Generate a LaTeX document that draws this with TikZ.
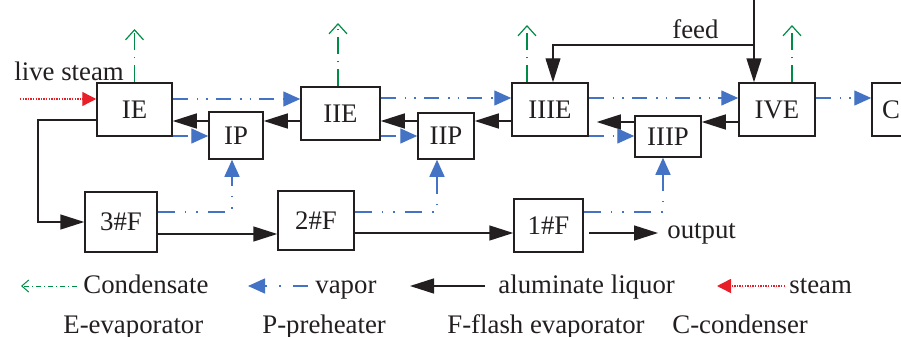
\documentclass[tikz,border=0pt]{standalone}
\usepackage{fontspec}
\setmainfont{Liberation Serif}
\usetikzlibrary{arrows.meta}
\definecolor{vblue}{RGB}{68,114,196}
\definecolor{cgreen}{RGB}{0,140,70}
\definecolor{sred}{RGB}{232,30,40}
\definecolor{lblack}{RGB}{35,31,32}
\begin{document}
\begin{tikzpicture}[x=0.5pt,y=-0.5pt,
 box/.style={draw=lblack, line width=0.75pt, inner sep=0pt, font=\fontsize{13.4}{15}\selectfont, text=lblack},
 txt/.style={inner sep=0pt, anchor=base west, font=\fontsize{13.4}{15}\selectfont, text=lblack},
 liq/.style={draw=lblack, line width=0.75pt, -{Triangle[length=12pt,width=7.5pt]}},
 vap/.style={draw=vblue, line width=0.7pt, dash pattern=on 7.5pt off 4.5pt on 0.8pt off 4pt on 0.8pt off 4pt, -{Triangle[length=8.5pt,width=7.5pt]}},
 vapb/.style={draw=vblue, line width=0.7pt, dash pattern=on 8.5pt off 5pt on 0.8pt off 5pt on 0.8pt off 5pt, -{Triangle[length=8.5pt,width=7.5pt]}},
 cond/.style={draw=cgreen, line width=0.6pt, dash pattern=on 8.5pt off 3.5pt on 0.6pt off 3.5pt, -{Straight Barb[length=5pt,width=9pt]}},
 stm/.style={draw=sred, line width=0.7pt, dash pattern=on 0.7pt off 0.6pt, -{Triangle[length=7pt,width=7pt]}}
 ]
\useasboundingbox (0,0) rectangle (901,337);
\clip (0,0) rectangle (901,337);
% boxes
\node[box, minimum width=37.5pt, minimum height=26.5pt] (IE) at (134.5,109.5) {IE};
\node[box, minimum width=27pt, minimum height=23.5pt] (IP) at (236,135.5) {IP};
\node[box, minimum width=39.5pt, minimum height=26.5pt] (IIE) at (340.5,113.5) {IIE};
\node[box, minimum width=28pt, minimum height=23pt] (IIP) at (446,136) {IIP};
\node[box, minimum width=38pt, minimum height=26.5pt] (IIIE) at (550,109.5) {IIIE};
\node[box, minimum width=33pt, minimum height=20.5pt] (IIIP) at (668,136.5) {IIIP};
\node[box, minimum width=38pt, minimum height=26.5pt] (IVE) at (777,109.5) {IVE};
\node[box, minimum width=19pt, minimum height=26.5pt] (C) at (891,109.5) {C};
\node[box, minimum width=36pt, minimum height=30pt] (F3) at (121,222) {3\#F};
\node[box, minimum width=38pt, minimum height=29.5pt] (F2) at (316,220.5) {2\#F};
\node[box, minimum width=34.5pt, minimum height=26.5pt] (F1) at (548.5,225.5) {1\#F};
% liquor upper
\draw[liq] (IP.west |- 0,121) -- (IE.east |- 0,121);
\draw[liq] (IIE.west |- 0,121) -- (IP.east |- 0,121);
\draw[liq] (IIP.west |- 0,121) -- (IIE.east |- 0,121);
\draw[liq] (IIIE.west |- 0,121) -- (IIP.east |- 0,121);
\draw[liq, shorten >=4pt] (IIIP.west |- 0,122) -- (IIIE.east |- 0,122);
\draw[liq] (IVE.west |- 0,122) -- (IIIP.east |- 0,122);
% vapor upper
\draw[vap] (IE.east |- 0,99) -- (IIE.west |- 0,99);
\draw[vap] (IIE.east |- 0,98) -- (IIIE.west |- 0,98);
\draw[vap] (IIIE.east |- 0,98) -- (IVE.west |- 0,98);
\draw[vap] (IVE.east |- 0,98) -- (C.west |- 0,98);
\draw[vap] (IE.east |- 0,136) -- (IP.west |- 0,136);
\draw[vap] (IIE.east |- 0,136) -- (IIP.west |- 0,136);
\draw[vap] (IIIE.east |- 0,136) -- (IIIP.west |- 0,136);
% vapor lower
\draw[vapb] (F3.east |- 0,212) -| (232,0 |- IP.south);
\draw[vapb] (F2.east |- 0,212) -| (437,0 |- IIP.south);
\draw[vapb] (F1.east |- 0,212) -| (663,0 |- IIIP.south);
% liquor lower
\draw[liq] (IE.west |- 0,120) -- (38,120) |- (F3.west);
\draw[liq] (F3.east |- 0,234) -- (F2.west |- 0,234);
\draw[liq] (F2.east |- 0,233) -- (F1.west |- 0,233);
\coordinate (outend) at (658,233);
\draw[liq, shorten <=2.5pt] (F1.east |- 0,233) -- (outend);
\node[txt] (outlbl) at (667,238) {output};
% feed
\coordinate (feedtop) at (754,0);
\draw[liq] (feedtop) -- (754,0 |- IVE.north);
\draw[liq, line width=0.55pt] (754,45) -| (553,0 |- IIIE.north);
\node[txt] (feedlbl) at (672,39) {feed};
% condensate
\draw[cond] (IE.north) -- (IE.north |- 0,29);
\draw[cond] (338,0 |- IIE.north) -- (338,23);
\draw[cond] (527,0 |- IIIE.north) -- (527,25);
\draw[cond] (792,0 |- IVE.north) -- (792,25);
% live steam
\coordinate (ls) at (20,99);
\draw[stm] (ls) -- (IE.west |- 0,99);
\node[txt] (lslbl) at (14,80) {live steam};
% legend
\coordinate (lg1a) at (77,286); \coordinate (lg1b) at (21,286);
\draw[cond, line width=0.5pt, dash pattern=on 2.5pt off 1.5pt on 0.5pt off 1.5pt, -{Straight Barb[length=3.5pt,width=6pt]}] (lg1a) -- (lg1b);
\node[txt] (lgt1) at (83,293) {Condensate};
\coordinate (lg2a) at (308,286); \coordinate (lg2b) at (248,286);
\draw[vap, dash pattern=on 7.5pt off 6pt on 0.8pt off 6pt] (lg2a) -- (lg2b);
\node[txt] (lgt2) at (315,293) {vapor};
\coordinate (lg3a) at (485,286); \coordinate (lg3b) at (410,286);
\draw[liq] (lg3a) -- (lg3b);
\node[txt] (lgt3) at (498,293) {aluminate liquor};
\coordinate (lg4a) at (785,286); \coordinate (lg4b) at (717,286);
\draw[stm] (lg4a) -- (lg4b);
\node[txt] (lgt4) at (789,293) {steam};
\node[txt] (lgr1) at (63,333) {E-evaporator};
\node[txt] (lgr2) at (262,333) {P-preheater};
\node[txt] (lgr3) at (447,333) {F-flash evaporator};
\node[txt] (lgr4) at (672,333) {C-condenser};
\end{tikzpicture}
\end{document}
